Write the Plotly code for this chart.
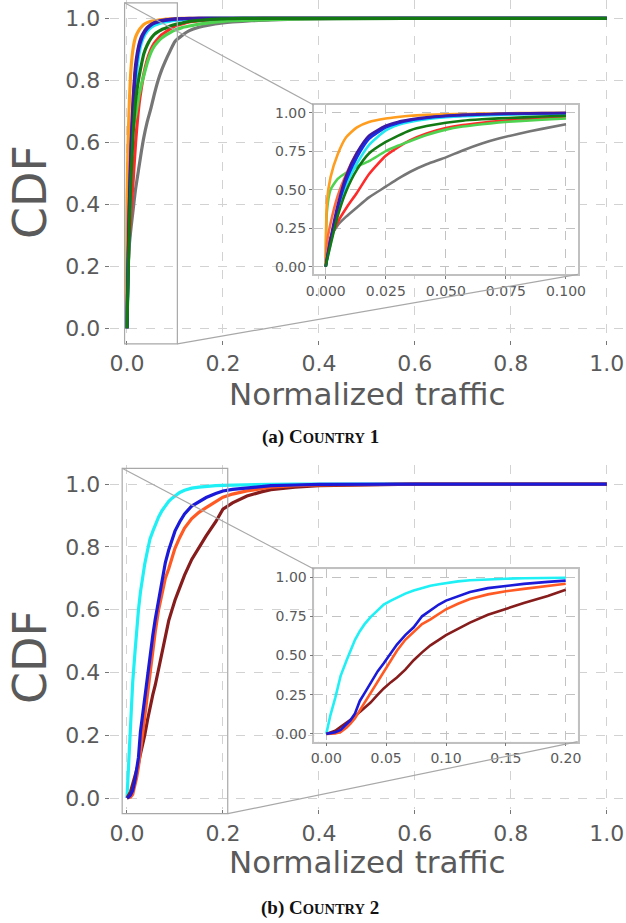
import plotly.graph_objects as go

# ---------------- data ----------------
# Country 1 (top)
x_c1 = [0, 0.0005, 0.002, 0.005, 0.0085, 0.013, 0.018, 0.025, 0.03, 0.035, 0.042, 0.05, 0.057,
        0.065, 0.072, 0.08, 0.09, 0.1, 0.115, 0.13, 0.15, 0.17, 0.2, 0.22, 0.26, 0.3, 0.37, 0.45,
        0.7, 1.0]
c1_gray = [0, 0.08, 0.19, 0.27, 0.325, 0.385, 0.45, 0.52, 0.57, 0.615, 0.665, 0.71, 0.755,
           0.80, 0.832, 0.862, 0.895, 0.925, 0.945, 0.96, 0.971, 0.978, 0.985, 0.988, 0.992, 0.995,
           0.997, 0.999, 1, 1]
c1_red = [0, 0.06, 0.18, 0.29, 0.38, 0.48, 0.60, 0.72, 0.775, 0.82, 0.865, 0.90, 0.92,
          0.935, 0.946, 0.955, 0.966, 0.975, 0.982, 0.988, 0.992, 0.995, 0.997, 0.998, 0.999, 1,
          1, 1, 1, 1]
c1_lime = [0, 0.36, 0.50, 0.57, 0.61, 0.65, 0.685, 0.75, 0.785, 0.815, 0.855, 0.89, 0.91,
           0.925, 0.936, 0.945, 0.954, 0.962, 0.97, 0.975, 0.981, 0.985, 0.99, 0.992, 0.994, 0.996,
           0.998, 0.999, 1, 1]
c1_orange = [0, 0.42, 0.58, 0.73, 0.84, 0.905, 0.94, 0.962, 0.972, 0.98, 0.986, 0.99, 0.992,
             0.994, 0.996, 0.997, 0.998, 0.999, 1, 1, 1, 1, 1, 1, 1, 1,
             1, 1, 1, 1]
c1_orangered = [0, 0.15, 0.28, 0.46, 0.60, 0.74, 0.83, 0.905, 0.935, 0.95, 0.965, 0.975, 0.98,
                0.985, 0.988, 0.99, 0.993, 0.995, 0.997, 0.998, 1, 1, 1, 1, 1, 1,
                1, 1, 1, 1]
c1_cyan = [0, 0.04, 0.15, 0.34, 0.53, 0.67, 0.79, 0.885, 0.92, 0.94, 0.958, 0.97, 0.977,
           0.982, 0.985, 0.988, 0.991, 0.993, 0.995, 0.997, 0.999, 1, 1, 1, 1, 1,
           1, 1, 1, 1]
c1_blue = [0, 0.05, 0.17, 0.38, 0.56, 0.71, 0.83, 0.905, 0.932, 0.95, 0.966, 0.978, 0.984,
           0.988, 0.991, 0.993, 0.995, 0.997, 0.998, 0.999, 1, 1, 1, 1, 1, 1,
           1, 1, 1, 1]
c1_indigo = [0, 0.05, 0.18, 0.40, 0.59, 0.74, 0.85, 0.915, 0.94, 0.955, 0.97, 0.98, 0.986,
             0.99, 0.993, 0.995, 0.997, 0.998, 0.999, 1, 1, 1, 1, 1, 1, 1,
             1, 1, 1, 1]
c1_darkgreen = [0, 0.04, 0.14, 0.33, 0.49, 0.63, 0.735, 0.81, 0.85, 0.885, 0.913, 0.935, 0.948,
                0.957, 0.963, 0.968, 0.975, 0.98, 0.985, 0.99, 0.993, 0.996, 0.998, 0.999, 1, 1,
                1, 1, 1, 1]

# Country 2 (bottom)
x_c2 = [0, 0.0035, 0.0075, 0.012, 0.017, 0.02, 0.024, 0.028, 0.032, 0.037, 0.043, 0.048, 0.054,
        0.059, 0.066, 0.073, 0.08, 0.087, 0.094, 0.1, 0.11, 0.12, 0.135, 0.15, 0.165, 0.185, 0.2,
        0.22, 0.25, 0.28, 0.3, 0.35, 0.4, 0.6, 1.0]
c2_cyan = [0, 0.12, 0.23, 0.37, 0.47, 0.53, 0.60, 0.655, 0.70, 0.745, 0.79, 0.825, 0.85,
           0.87, 0.895, 0.915, 0.93, 0.945, 0.955, 0.963, 0.973, 0.98, 0.987, 0.99, 0.993, 0.995, 0.996,
           0.997, 0.998, 0.999, 0.999, 1, 1, 1, 1]
c2_darkred = [0, 0.01, 0.02, 0.045, 0.07, 0.085, 0.11, 0.14, 0.165, 0.20, 0.25, 0.29, 0.33,
              0.36, 0.41, 0.47, 0.52, 0.565, 0.60, 0.63, 0.67, 0.71, 0.76, 0.80, 0.835, 0.88, 0.92,
              0.94, 0.962, 0.975, 0.982, 0.99, 0.995, 1, 1]
c2_orangered = [0, 0.001, 0.003, 0.012, 0.04, 0.064, 0.10, 0.15, 0.20, 0.255, 0.33, 0.40, 0.47,
                0.53, 0.60, 0.65, 0.70, 0.73, 0.765, 0.795, 0.83, 0.86, 0.89, 0.91, 0.925, 0.945, 0.958,
                0.968, 0.978, 0.985, 0.99, 0.995, 0.997, 1, 1]
c2_blue = [0, 0.003, 0.01, 0.025, 0.06, 0.085, 0.13, 0.21, 0.26, 0.32, 0.40, 0.45, 0.52,
           0.57, 0.63, 0.68, 0.75, 0.79, 0.825, 0.85, 0.88, 0.905, 0.93, 0.945, 0.957, 0.97, 0.978,
           0.983, 0.988, 0.992, 0.995, 0.997, 0.999, 1, 1]

main_ticks = [0.0, 0.2, 0.4, 0.6, 0.8, 1.0]
main_ticktext = ["0.0", "0.2", "0.4", "0.6", "0.8", "1.0"]
inset1_xticks = [0.0, 0.025, 0.05, 0.075, 0.1]
inset1_xtext = ["0.000", "0.025", "0.050", "0.075", "0.100"]
inset2_xticks = [0.0, 0.05, 0.1, 0.15, 0.2]
inset2_xtext = ["0.00", "0.05", "0.10", "0.15", "0.20"]
inset_yticks = [0.0, 0.25, 0.5, 0.75, 1.0]
inset_ytext = ["0.00", "0.25", "0.50", "0.75", "1.00"]

series_c1 = [
    (c1_gray, "#767676"), (c1_red, "#ff2a2a"), (c1_lime, "#4fd24f"), (c1_orange, "#ff9d1f"),
    (c1_orangered, "#ff6a3a"), (c1_cyan, "#22e8f0"), (c1_blue, "#1030f0"),
    (c1_indigo, "#3a1aa8"), (c1_darkgreen, "#137a13"),
]
series_c2 = [
    (c2_cyan, "#1ef0f5"), (c2_darkred, "#861c1c"), (c2_orangered, "#ff5a24"), (c2_blue, "#1a1ad8"),
]

# ---------------- layout geometry ----------------
W, H = 626, 923
main_xrange = [-0.036, 1.04]
main_xdom = [109.7 / W, 1.0]
top_yrange = [-0.036, 1.059]
top_ydom = [1 - 339.5 / H, 1.0]
bot_yrange = [-0.036, 1.06]
bot_ydom = [1 - 809.3 / H, 1 - 465.2 / H]

in1_xrange = [-0.005, 0.105]
in1_xdom = [313.7 / W, 578.0 / W]
in1_yrange = [-0.05, 1.05]
in1_ydom = [1 - 274.4 / H, 1 - 105.0 / H]

in2_xrange = [-0.01, 0.21]
in2_xdom = [314.3 / W, 577.7 / W]
in2_yrange = [-0.05, 1.05]
in2_ydom = [1 - 741.7 / H, 1 - 569.3 / H]

fig = go.Figure()

for ys, col in series_c1:
    fig.add_trace(go.Scatter(x=x_c1, y=ys, mode="lines",
                             line=dict(color=col, width=3.2, shape="spline", smoothing=0.6),
                             xaxis="x", yaxis="y", showlegend=False, hoverinfo="skip"))
for ys, col in series_c1:
    xs = [v for v in x_c1 if v <= 0.1]
    fig.add_trace(go.Scatter(x=xs, y=ys[:len(xs)], mode="lines",
                             line=dict(color=col, width=2.6, shape="spline", smoothing=0.6),
                             xaxis="x3", yaxis="y3", showlegend=False, hoverinfo="skip"))
for ys, col in series_c2:
    fig.add_trace(go.Scatter(x=x_c2, y=ys, mode="lines", line=dict(color=col, width=3.2),
                             xaxis="x2", yaxis="y2", showlegend=False, hoverinfo="skip"))
for ys, col in series_c2:
    xs = [v for v in x_c2 if v <= 0.2]
    fig.add_trace(go.Scatter(x=xs, y=ys[:len(xs)], mode="lines", line=dict(color=col, width=2.6),
                             xaxis="x4", yaxis="y4", showlegend=False, hoverinfo="skip"))

tick_col = "#5a5a5a"
main_font = dict(family="DejaVu Sans", size=22, color=tick_col)
inset_font = dict(family="DejaVu Sans", size=14, color=tick_col)


def main_axis(rng, dom, anchor, vals, text):
    return dict(range=rng, domain=dom, anchor=anchor, tickvals=vals, ticktext=text,
                showgrid=True, gridcolor="#d2d2d2", griddash="dash", gridwidth=1,
                zeroline=False, showline=False, ticks="outside", ticklen=4, tickwidth=1,
                tickcolor="#777777", tickfont=main_font, automargin=False)


def inset_axis(rng, dom, anchor, vals, text):
    return dict(range=rng, domain=dom, anchor=anchor, tickvals=vals, ticktext=text,
                showgrid=True, gridcolor="#c2c2c2", griddash="dash", gridwidth=1,
                zeroline=False, showline=True, mirror=True, linecolor="#c0c0c0", linewidth=1.5,
                ticks="outside", ticklen=3, tickwidth=1, tickcolor="#777777", tickfont=inset_font,
                automargin=False)


fig.update_layout(
    width=W, height=H, margin=dict(l=0, r=0, t=0, b=0, autoexpand=False),
    paper_bgcolor="white", plot_bgcolor="white",
    xaxis=main_axis(main_xrange, main_xdom, "y", main_ticks, main_ticktext),
    yaxis=main_axis(top_yrange, top_ydom, "x", main_ticks, main_ticktext),
    xaxis2=main_axis(main_xrange, main_xdom, "y2", main_ticks, main_ticktext),
    yaxis2=main_axis(bot_yrange, bot_ydom, "x2", main_ticks, main_ticktext),
    xaxis3=inset_axis(in1_xrange, in1_xdom, "y3", inset1_xticks, inset1_xtext),
    yaxis3=inset_axis(in1_yrange, in1_ydom, "x3", inset_yticks, inset_ytext),
    xaxis4=inset_axis(in2_xrange, in2_xdom, "y4", inset2_xticks, inset2_xtext),
    yaxis4=inset_axis(in2_yrange, in2_ydom, "x4", inset_yticks, inset_ytext),
)


def px(v, rng, dom):
    return dom[0] + (v - rng[0]) / (rng[1] - rng[0]) * (dom[1] - dom[0])


shapes = []
# inset backgrounds
for xr, yr in (("x3", "y3"), ("x4", "y4")):
    shapes.append(dict(type="rect", xref=xr + " domain", yref=yr + " domain", x0=0, x1=1, y0=0, y1=1,
                       fillcolor="#ececec", line=dict(width=0), layer="below"))

line_style = dict(color="#a8a8a8", width=1.2)
for (irx, iry, iydom, ixdom, myr, myd) in (
    (in1_xrange, in1_yrange, in1_ydom, in1_xdom, top_yrange, top_ydom),
    (in2_xrange, in2_yrange, in2_ydom, in2_xdom, bot_yrange, bot_ydom),
):
    rx0 = px(irx[0], main_xrange, main_xdom)
    rx1 = px(irx[1], main_xrange, main_xdom)
    ry0 = px(iry[0], myr, myd)
    ry1 = min(px(iry[1], myr, myd), 0.9995)
    shapes.append(dict(type="rect", xref="paper", yref="paper", x0=rx0, x1=rx1, y0=ry0, y1=ry1,
                       line=line_style, fillcolor="rgba(0,0,0,0)"))
    # connectors: top-left to inset top-left, bottom-right to inset bottom-right
    shapes.append(dict(type="line", xref="paper", yref="paper", x0=rx0, y0=ry1,
                       x1=ixdom[0], y1=iydom[1], line=line_style))
    shapes.append(dict(type="line", xref="paper", yref="paper", x0=rx1, y0=ry0,
                       x1=ixdom[1], y1=iydom[0], line=line_style))
fig.update_layout(shapes=shapes)

title_col = "#5a5a5a"
ann = []
for ycen in (192, 657):
    ann.append(dict(text="CDF", xref="paper", yref="paper", x=30 / W, y=1 - ycen / H,
                    textangle=-90, showarrow=False, xanchor="center", yanchor="middle",
                    font=dict(family="DejaVu Sans", size=46, color=title_col)))
for ycen in (394, 862):
    ann.append(dict(text="Normalized traffic", xref="paper", yref="paper", x=367 / W, y=1 - ycen / H,
                    showarrow=False, xanchor="center", yanchor="middle",
                    font=dict(family="DejaVu Sans", size=31, color=title_col)))
for ycen, lab, num in ((437, "(a)", "1"), (908, "(b)", "2")):
    txt = ("<b>" + lab + " C<span style='font-size:14.5px'>OUNTRY</span> " + num + "</b>")
    ann.append(dict(text=txt, xref="paper", yref="paper", x=320 / W, y=1 - ycen / H,
                    showarrow=False, xanchor="center", yanchor="middle",
                    font=dict(family="Liberation Serif", size=19, color="#111111")))
fig.update_layout(annotations=ann)

fig.write_html("out.html", config={"displayModeBar": False},
               post_script="document.body.style.margin='0';document.body.style.overflow='hidden';")
